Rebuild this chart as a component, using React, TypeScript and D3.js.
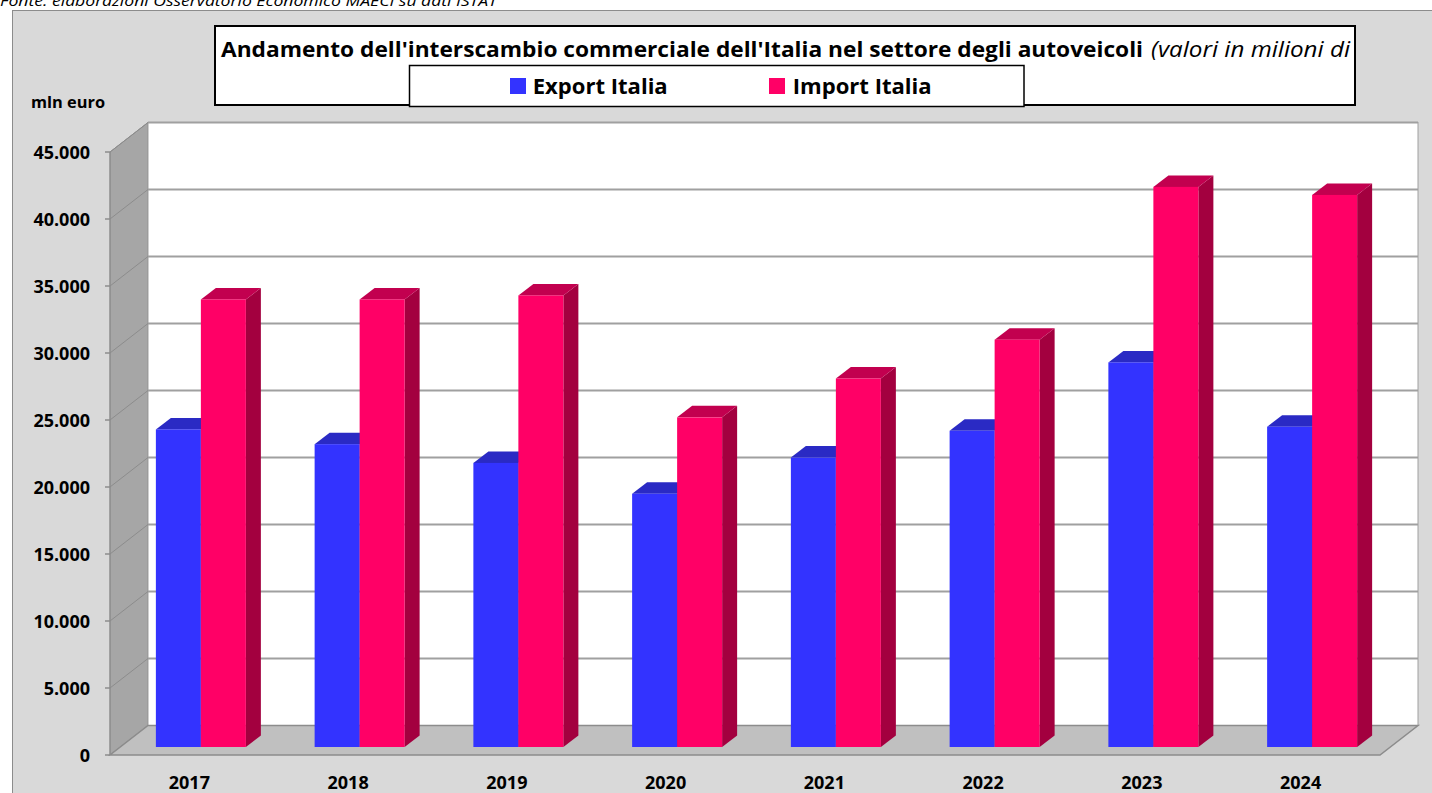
import React from "react";
import * as d3 from "d3";

const years = ["2017", "2018", "2019", "2020", "2021", "2022", "2023", "2024"];
const seriesNames = ["Export Italia", "Import Italia"];
const exportValues = [23700, 22600, 21200, 18900, 21600, 23600, 28700, 23900];
const importValues = [33400, 33400, 33700, 24600, 27500, 30400, 41800, 41200];
const yTicks = [0, 5000, 10000, 15000, 20000, 25000, 30000, 35000, 40000, 45000];

const W = 1432;
const H = 793;

// geometry
const frontLeft = 110;
const frontRight = 1380;
const frontBottom = 755;
const frontTop = 152;
const depthX = 38;
const depthY = 29.5;
const barShiftX = 11.5;
const barShiftY = 8;
const barDX = 15;
const barDY = 11.5;
const barW = 45;

const colors = {
  exportFront: "#3333ff",
  exportTop: "#2a2ac4",
  exportSide: "#1f1fa0",
  importFront: "#ff0066",
  importTop: "#c2004f",
  importSide: "#a3003f",
};

const fmt = (v: number) => d3.format(",")(v).replace(/,/g, ".");

export default function App() {
  const x = d3.scaleBand<string>().domain(years).range([frontLeft, frontRight]);
  const y = d3.scaleLinear().domain([0, 45000]).range([frontBottom, frontTop]);
  const bw = x.bandwidth();
  const groupOffset = (bw - 2 * barW) / 2;

  const bars: any[] = [];
  years.forEach((yr, i) => {
    [exportValues[i], importValues[i]].forEach((v, s) => {
      const x0 = (x(yr) as number) + barShiftX + groupOffset + s * barW;
      const x1 = x0 + barW;
      const yb = y(0) - barShiftY;
      const yt = y(v) - barShiftY;
      const front = s === 0 ? colors.exportFront : colors.importFront;
      const top = s === 0 ? colors.exportTop : colors.importTop;
      const side = s === 0 ? colors.exportSide : colors.importSide;
      bars.push(
        <g key={yr + s}>
          <polygon
            points={`${x1},${yt} ${x1 + barDX},${yt - barDY} ${x1 + barDX},${yb - barDY} ${x1},${yb}`}
            fill={side}
          />
          <polygon
            points={`${x0},${yt} ${x0 + barDX},${yt - barDY} ${x1 + barDX},${yt - barDY} ${x1},${yt}`}
            fill={top}
          />
          <rect x={x0} y={yt} width={barW} height={yb - yt} fill={front} />
        </g>
      );
    });
  });

  const font = "'Open Sans', 'Noto Sans', Arial, sans-serif";

  return (
    <svg
      width={W}
      height={H}
      style={{ position: "absolute", left: 0, top: 0, display: "block" }}
      fontFamily={font}
    >
      <rect x={0} y={0} width={W} height={H} fill="#ffffff" />
      <text x={0} y={6} fontSize={14} fontStyle="italic" textLength={497} lengthAdjust="spacingAndGlyphs" fill="#000">
        Fonte: elaborazioni Osservatorio Economico MAECI su dati ISTAT
      </text>
      <rect x={12.5} y={10.5} width={W} height={H} fill="#d9d9d9" stroke="#8c8c8c" strokeWidth={1} />

      {/* left wall */}
      <polygon
        points={`${frontLeft},${y(45000)} ${frontLeft + depthX},${y(45000) - depthY} ${frontLeft + depthX},${y(0) - depthY} ${frontLeft},${y(0)}`}
        fill="#a6a6a6"
        stroke="#8c8c8c"
        strokeWidth={1}
      />
      {/* back wall */}
      <rect
        x={frontLeft + depthX}
        y={y(45000) - depthY}
        width={frontRight - frontLeft}
        height={y(0) - y(45000)}
        fill="#ffffff"
        stroke="#a0a0a0"
        strokeWidth={1}
      />
      {/* floor */}
      <polygon
        points={`${frontLeft},${y(0)} ${frontRight},${y(0)} ${frontRight + depthX},${y(0) - depthY} ${frontLeft + depthX},${y(0) - depthY}`}
        fill="#c0c0c0"
        stroke="#8c8c8c"
        strokeWidth={1.5}
      />
      {/* gridlines */}
      {yTicks.slice(1).map((t) => (
        <g key={t}>
          <line
            x1={frontLeft + depthX}
            x2={frontRight + depthX}
            y1={y(t) - depthY}
            y2={y(t) - depthY}
            stroke="#a0a0a0"
            strokeWidth={2}
          />
          <line
            x1={frontLeft}
            x2={frontLeft + depthX}
            y1={y(t)}
            y2={y(t) - depthY}
            stroke="#8c8c8c"
            strokeWidth={1}
          />
        </g>
      ))}
      {/* y axis */}
      <line x1={frontLeft} x2={frontLeft} y1={y(45000)} y2={y(0)} stroke="#8c8c8c" strokeWidth={1} />
      {yTicks.map((t) => (
        <g key={"t" + t}>
          <line x1={frontLeft - 5} x2={frontLeft} y1={y(t)} y2={y(t)} stroke="#8c8c8c" strokeWidth={1.5} />
          <text
            x={90}
            y={y(t) + 6.5}
            textAnchor="end"
            fontSize={18}
            fontWeight="bold"
            fill="#000"
          >
            {fmt(t)}
          </text>
        </g>
      ))}
      <text x={31} y={108} fontSize={16} fontWeight="bold" fill="#000" textLength={74} lengthAdjust="spacingAndGlyphs">
        mln euro
      </text>

      {bars}

      {/* x labels */}
      {years.map((yr) => (
        <text
          key={"x" + yr}
          x={(x(yr) as number) + bw / 2}
          y={789}
          textAnchor="middle"
          fontSize={18}
          fontWeight="bold"
          fill="#000"
        >
          {yr}
        </text>
      ))}

      {/* title box */}
      <rect x={215} y={26} width={1140} height={79} fill="#ffffff" stroke="#000" strokeWidth={2} />
      <text x={221} y={57} fontSize={21} fontWeight="bold" fill="#000" textLength={922} lengthAdjust="spacingAndGlyphs">
        Andamento dell'interscambio commerciale dell'Italia nel settore degli autoveicoli
      </text>
      <text x={1151} y={57} fontSize={21} fontStyle="italic" fill="#000" textLength={199} lengthAdjust="spacingAndGlyphs">
        (valori in milioni di
      </text>

      {/* legend box */}
      <rect x={409.5} y={65.5} width={614.5} height={41} fill="#ffffff" stroke="#000" strokeWidth={1.5} />
      <rect x={510} y={78} width={16} height={16} fill={colors.exportFront} />
      <text x={532.7} y={94} fontSize={22} fontWeight="bold" fill="#000" textLength={135} lengthAdjust="spacingAndGlyphs">
        {seriesNames[0]}
      </text>
      <rect x={769} y={78} width={16} height={16} fill={colors.importFront} />
      <text x={792.7} y={94} fontSize={22} fontWeight="bold" fill="#000" textLength={139} lengthAdjust="spacingAndGlyphs">
        {seriesNames[1]}
      </text>
    </svg>
  );
}
